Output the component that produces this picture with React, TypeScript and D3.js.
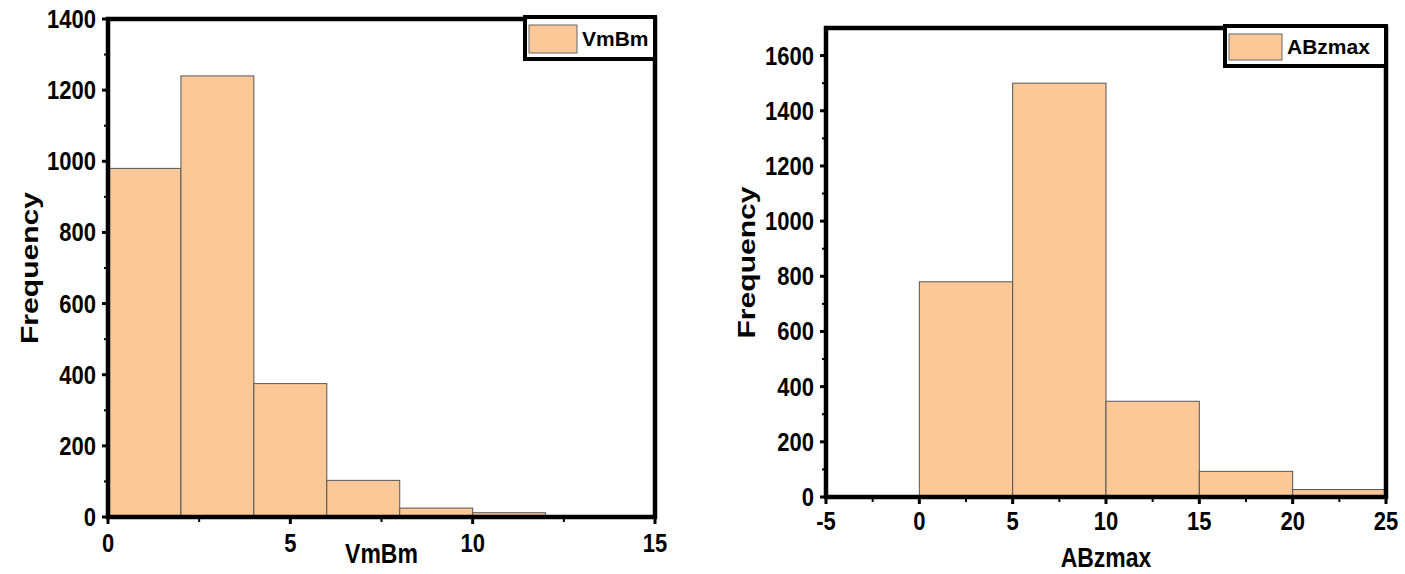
import React, { useEffect, useRef } from "react";
import * as d3 from "d3";

// left panel: VmBm histogram (bin width 2)
const vmbmBins = [0, 2, 4, 6, 8, 10, 12, 14];
const vmbmCounts = [980, 1240, 375, 103, 25, 12, 4, 1];
const vmbmXTicks = [0, 5, 10, 15];
const vmbmYTicks = [0, 200, 400, 600, 800, 1000, 1200, 1400];

// right panel: ABzmax histogram (bin width 5)
const abzBins = [0, 5, 10, 15, 20];
const abzCounts = [780, 1500, 347, 93, 27];
const abzXTicks = [-5, 0, 5, 10, 15, 20, 25];
const abzYTicks = [0, 200, 400, 600, 800, 1000, 1200, 1400, 1600];

const FILL = "#fcc897";
const FONT = "Arial, 'Liberation Sans', sans-serif";
const TICK_STRETCH = 1.15; // the source image text is a bit taller than Arial
const TITLE_STRETCH = 1.2;

interface Panel {
  id: string;
  name: string;
  bins: number[];
  counts: number[];
  binW: number;
  xDomain: [number, number];
  yDomain: [number, number];
  xTicks: number[];
  yTicks: number[];
  x0: number;
  x1: number;
  y0: number;
  y1: number;
  legendW: number;
  legendH: number;
  swatchW: number;
  xTitleY: number;
  xLabelY: number;
  yTitleX: number;
}

const panels: Panel[] = [
  {
    id: "vmbm", name: "VmBm", bins: vmbmBins, counts: vmbmCounts, binW: 2,
    xDomain: [0, 15], yDomain: [0, 1400], xTicks: vmbmXTicks, yTicks: vmbmYTicks,
    x0: 108, x1: 655, y0: 517, y1: 19, legendW: 130, legendH: 42, swatchW: 48,
    xTitleY: 563, xLabelY: 552, yTitleX: 38,
  },
  {
    id: "abz", name: "ABzmax", bins: abzBins, counts: abzCounts, binW: 5,
    xDomain: [-5, 25], yDomain: [0, 1700], xTicks: abzXTicks, yTicks: abzYTicks,
    x0: 826, x1: 1386, y0: 497, y1: 28, legendW: 161, legendH: 40, swatchW: 53,
    xTitleY: 567, xLabelY: 530, yTitleX: 755,
  },
];

type G = d3.Selection<SVGGElement, unknown, null, undefined>;

function addText(g: G, x: number, y: number, s: string | number, size: number,
                 anchor: string, stretch: number) {
  return g.append("text")
    .attr("transform", `translate(${x},${y}) scale(1,${stretch})`)
    .attr("text-anchor", anchor)
    .attr("font-family", FONT).attr("font-weight", "bold").attr("font-size", size)
    .text(s);
}

function drawPanel(svg: d3.Selection<SVGSVGElement, unknown, null, undefined>, p: Panel) {
  const x = d3.scaleLinear().domain(p.xDomain).range([p.x0, p.x1]);
  const y = d3.scaleLinear().domain(p.yDomain).range([p.y0, p.y1]);
  const g = svg.append("g") as unknown as G;

  g.append("clipPath").attr("id", "clip-" + p.id)
    .append("rect")
    .attr("x", p.x0).attr("y", p.y1)
    .attr("width", p.x1 - p.x0).attr("height", p.y0 - p.y1);

  g.append("g").attr("clip-path", `url(#clip-${p.id})`)
    .selectAll("rect")
    .data(p.bins)
    .enter().append("rect")
    .attr("x", (d) => x(d))
    .attr("width", (d) => x(d + p.binW) - x(d))
    .attr("y", (d, i) => y(p.counts[i]))
    .attr("height", (d, i) => y(0) - y(p.counts[i]))
    .attr("fill", FILL)
    .attr("stroke", "#555")
    .attr("stroke-width", 1);

  // minor ticks
  const yStep = p.yTicks[1] - p.yTicks[0];
  const yMinor = d3.range(p.yDomain[0] + yStep / 2, p.yDomain[1], yStep);
  const xStep = p.xTicks[1] - p.xTicks[0];
  const xMinor = d3.range(p.xDomain[0] + xStep / 2, p.xDomain[1], xStep);

  g.selectAll(".ymin").data(yMinor).enter().append("line")
    .attr("x1", p.x0 - 4).attr("x2", p.x0)
    .attr("y1", (d) => y(d)).attr("y2", (d) => y(d))
    .attr("stroke", "#000").attr("stroke-width", 2);
  g.selectAll(".xmin").data(xMinor).enter().append("line")
    .attr("y1", p.y0).attr("y2", p.y0 + 5)
    .attr("x1", (d) => x(d)).attr("x2", (d) => x(d))
    .attr("stroke", "#000").attr("stroke-width", 2);

  // major ticks + labels
  g.selectAll(".ymaj").data(p.yTicks).enter().append("line")
    .attr("x1", p.x0 - 6).attr("x2", p.x0)
    .attr("y1", (d) => y(d)).attr("y2", (d) => y(d))
    .attr("stroke", "#000").attr("stroke-width", 3);
  p.yTicks.forEach((t) => addText(g, p.x0 - 12, y(t) + 9, t, 22, "end", TICK_STRETCH));

  g.selectAll(".xmaj").data(p.xTicks).enter().append("line")
    .attr("y1", p.y0).attr("y2", p.y0 + 7)
    .attr("x1", (d) => x(d)).attr("x2", (d) => x(d))
    .attr("stroke", "#000").attr("stroke-width", 3);
  p.xTicks.forEach((t) => addText(g, x(t), p.xLabelY, t, 22, "middle", TICK_STRETCH));

  // frame
  g.append("rect")
    .attr("x", p.x0).attr("y", p.y1)
    .attr("width", p.x1 - p.x0).attr("height", p.y0 - p.y1)
    .attr("fill", "none").attr("stroke", "#000").attr("stroke-width", 4.5);

  // titles
  addText(g, (p.x0 + p.x1) / 2, p.xTitleY, p.name, 23, "middle", TITLE_STRETCH);
  g.append("text")
    .attr("transform", `translate(${p.yTitleX},${(p.y0 + p.y1) / 2}) rotate(-90)`)
    .attr("text-anchor", "middle")
    .attr("font-family", FONT).attr("font-weight", "bold").attr("font-size", 24)
    .attr("textLength", 152).attr("lengthAdjust", "spacingAndGlyphs")
    .text("Frequency");

  // legend
  const lx = p.x1 - p.legendW;
  const lg = g.append("g").attr("transform", `translate(${lx},${p.y1 - 2})`);
  lg.append("rect")
    .attr("width", p.legendW).attr("height", p.legendH)
    .attr("fill", "#fff").attr("stroke", "#000").attr("stroke-width", 4);
  lg.append("rect")
    .attr("x", 4).attr("y", 8).attr("width", p.swatchW).attr("height", p.legendH - 14)
    .attr("fill", FILL).attr("stroke", "#666").attr("stroke-width", 1);
  lg.append("text")
    .attr("x", p.swatchW + 9).attr("y", p.legendH / 2 + 8)
    .attr("font-family", FONT).attr("font-weight", "bold").attr("font-size", 21)
    .text(p.name);
}

export default function App() {
  const ref = useRef<SVGSVGElement>(null);

  useEffect(() => {
    const svg = d3.select(ref.current!);
    svg.selectAll("*").remove();
    panels.forEach((p) => drawPanel(svg, p));
  }, []);

  return (
    <svg ref={ref} width={1405} height={574}
         style={{ position: "absolute", left: 0, top: 0, background: "#fff" }} />
  );
}
